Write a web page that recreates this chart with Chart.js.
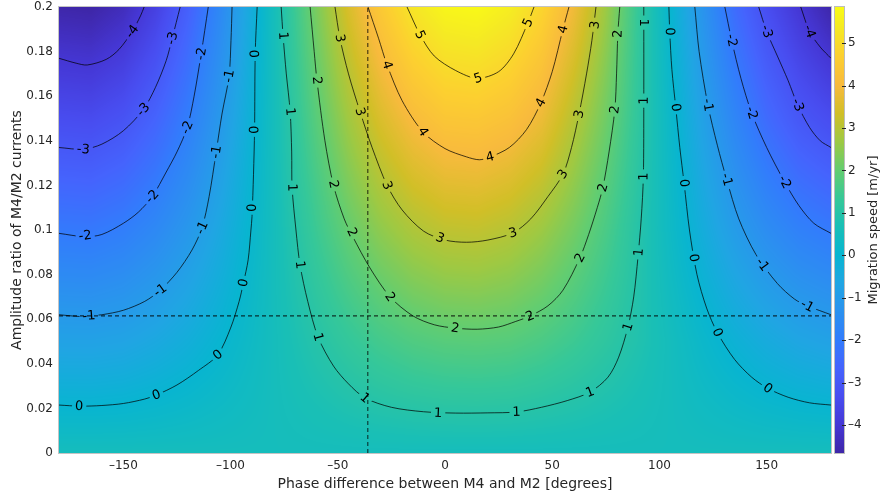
<!DOCTYPE html>
<html><head><meta charset="utf-8">
<script src="https://cdn.jsdelivr.net/npm/chart.js@4.4.1/dist/chart.umd.min.js"></script>
<style>html,body{margin:0;padding:0;background:#fff;}canvas{display:block;}</style>
</head><body>
<canvas id="c" width="882" height="494"></canvas>
<script>
// ---------------- data ----------------
const phaseGrid = [-180,-165,-150,-135,-120,-105,-90,-75,-60,-45,-30,-15,0,15,30,45,60,75,90,105,120,135,150,165,180];
const amplitudeGrid = [0, 0.05, 0.10, 0.15, 0.20];
const speedAtAmp000 = [0.53,0.53,0.53,0.53,0.53,0.53,0.53,0.53,0.53,0.53,0.53,0.53,0.53,0.53,0.53,0.53,0.53,0.53,0.53,0.53,0.53,0.53,0.53,0.53,0.53];
const speedAtAmp005 = [-0.76,-0.77,-0.70,-0.53,-0.30,-0.01,0.31,0.64,0.96,1.26,1.52,1.71,1.82,1.85,1.80,1.64,1.42,1.15,0.86,0.52,0.17,-0.15,-0.42,-0.63,-0.76];
const speedAtAmp010 = [-2.05,-2.08,-1.92,-1.59,-1.12,-0.55,0.09,0.75,1.40,2.00,2.51,2.89,3.11,3.15,3.00,2.68,2.20,1.63,0.98,0.31,-0.34,-0.94,-1.45,-1.83,-2.05];
const speedAtAmp015 = [-3.34,-3.38,-3.15,-2.65,-1.95,-1.09,-0.13,0.86,1.83,2.73,3.50,4.07,4.40,4.44,4.25,3.82,3.01,2.15,1.19,0.20,-0.77,-1.67,-2.44,-3.01,-3.34];
const speedAtAmp020 = [-4.63,-4.69,-4.38,-3.71,-2.77,-1.62,-0.35,0.97,2.27,3.47,4.49,5.25,5.69,5.78,5.48,4.85,3.88,2.68,1.30,0.02,-1.21,-2.41,-3.30,-4.00,-4.63];
const colorMin = -4.66, colorMax = 5.85;

// contour lines: [phase, amplitude ratio]
const contourLevel5 = [[-17.7,0.2],[-11.6,0.1875],[-5,0.178],[5,0.1715],[15,0.168],[25,0.171],[32,0.179],[38.7,0.193],[41.5,0.2]];
const contourLevel4 = [[-35.9,0.2],[-31,0.186],[-27,0.174],[-20,0.158],[-10.3,0.144],[0,0.1365],[10,0.1328],[16,0.1315],[21,0.1327],[30,0.137],[38,0.145],[44.7,0.157],[50,0.171],[55,0.19],[57.8,0.2]];
const contourLevel3 = [[-51.3,0.2],[-49,0.186],[-45,0.17],[-39.6,0.153],[-34,0.137],[-27,0.12],[-20,0.109],[-10,0.0995],[0,0.0955],[10,0.0945],[20,0.0955],[31.7,0.0987],[40,0.105],[48,0.115],[55,0.125],[59,0.137],[62.5,0.152],[66,0.17],[68.5,0.185],[70.4,0.2]];
const contourLevel2 = [[-62.9,0.2],[-61,0.18],[-59.7,0.167],[-56,0.14],[-52,0.12],[-47,0.105],[-43,0.097],[-35,0.083],[-25.6,0.070],[-15,0.0615],[-5,0.0575],[4.7,0.056],[15,0.0555],[25,0.0565],[33,0.059],[39.6,0.0614],[48,0.066],[55,0.073],[62.9,0.0875],[67,0.098],[71,0.11],[73.6,0.119],[76.5,0.135],[79.2,0.154],[80,0.17],[80.6,0.188],[81.5,0.2]];
const contourLevel1 = [[-76.4,0.2],[-75.5,0.187],[-74,0.17],[-72.2,0.153],[-71.5,0.135],[-71.3,0.119],[-69.5,0.1],[-67.6,0.0843],[-64,0.068],[-59.2,0.052],[-52,0.039],[-45,0.031],[-37.3,0.0247],[-25,0.0205],[-10,0.0185],[5,0.0179],[20,0.018],[33.4,0.0184],[45,0.0205],[57,0.0235],[67.6,0.0273],[76,0.034],[81,0.043],[85.3,0.0565],[88,0.07],[90,0.088],[91.5,0.105],[92.5,0.124],[92.7,0.158],[92.7,0.2]];
const contourLevel0Left = [[-180,0.0215],[-170,0.021],[-160,0.0213],[-150,0.0222],[-140,0.0242],[-134.6,0.026],[-125,0.0305],[-115,0.037],[-106,0.044],[-100,0.056],[-96,0.068],[-94,0.0763],[-91.8,0.0866],[-90.5,0.1],[-90,0.106],[-89.3,0.125],[-88.8,0.145],[-88.5,0.179],[-87.6,0.2]];
const contourLevel0Right = [[104.4,0.2],[104.8,0.189],[105.8,0.172],[107.6,0.155],[109.5,0.137],[111.5,0.121],[114,0.1],[117.5,0.08],[122,0.065],[127,0.054],[135,0.042],[143,0.034],[150.5,0.029],[160,0.025],[170,0.0225],[180,0.0215]];
const contourLevelM1Left = [[-180,0.062],[-170,0.0612],[-166,0.0615],[-160,0.062],[-150,0.064],[-140,0.068],[-132.8,0.073],[-125,0.081],[-118,0.091],[-113.3,0.101],[-110,0.115],[-106.7,0.135],[-104,0.152],[-100.7,0.169],[-99.8,0.185],[-99.3,0.2]];
const contourLevelM1Right = [[116.5,0.2],[118.5,0.18],[122.6,0.156],[127,0.138],[131.4,0.1225],[137,0.105],[145,0.089],[155,0.076],[163,0.069],[169,0.066],[180,0.062]];
const contourLevelM2Left = [[-180,0.0985],[-168,0.097],[-160,0.098],[-150,0.103],[-143,0.108],[-136.5,0.115],[-130,0.126],[-125,0.135],[-120.2,0.146],[-117,0.16],[-113.7,0.179],[-110.4,0.2]];
const contourLevelM2Right = [[130.5,0.2],[133.7,0.185],[138,0.168],[143,0.1525],[150,0.137],[158.4,0.1215],[165,0.111],[172,0.103],[180,0.0985]];
const contourLevelM3Left = [[-180,0.137],[-168.7,0.1362],[-160,0.1385],[-150,0.1445],[-140.7,0.154],[-135,0.164],[-130,0.176],[-127.2,0.186],[-123.5,0.2]];
const contourLevelM3Right = [[146.3,0.2],[150,0.189],[155,0.178],[160,0.167],[164.5,0.156],[170,0.146],[175,0.14],[180,0.137]];
const contourLevelM4Left = [[-180,0.177],[-172,0.1748],[-166.8,0.174],[-158,0.1765],[-152,0.181],[-145.9,0.189],[-142,0.196],[-140.3,0.2]];
const contourLevelM4Right = [[165.9,0.2],[170,0.189],[175,0.182],[180,0.177]];

// contour labels: [level, phase, amplitude ratio]
const contourLabels = [
  [5,-11.6,0.1875],[5,15.4,0.168],[5,38.7,0.193],
  [4,-27,0.174],[4,-10.3,0.144],[4,21,0.1327],[4,44.7,0.157],[4,55,0.19],
  [3,-49,0.186],[3,-39.6,0.153],[3,-27,0.12],[3,-2.3,0.0964],[3,31.7,0.0987],[3,55,0.125],[3,62.5,0.152],[3,69.9,0.192],
  [2,-59.7,0.167],[2,-52,0.1205],[2,-43.3,0.099],[2,-25.6,0.070],[2,4.7,0.056],[2,39.6,0.0614],[2,62.9,0.0875],[2,73.6,0.119],[2,79.2,0.154],[2,80.6,0.188],
  [1,-75.5,0.187],[1,-72.2,0.153],[1,-71.3,0.119],[1,-67.6,0.0843],[1,-59.2,0.052],[1,-37.3,0.0247],[1,-3.2,0.0179],[1,33.4,0.0184],[1,67.6,0.0273],[1,85.3,0.0565],[1,90.4,0.09],[1,92.6,0.124],[1,92.7,0.158],[1,92.7,0.193],
  [0,-88.5,0.179],[0,-88.8,0.145],[0,-90,0.11],[0,-94,0.0763],[0,-106,0.044],[0,-134.6,0.026],[0,-170.6,0.021],
  [0,104.8,0.189],[0,107.6,0.155],[0,111.5,0.121],[0,116,0.0875],[0,127,0.054],[0,150.5,0.029],
  [-1,-100.7,0.169],[-1,-106.7,0.135],[-1,-113.3,0.101],[-1,-132.8,0.073],[-1,-166,0.0615],
  [-1,122.6,0.156],[-1,131.4,0.1225],[-1,148,0.0845],[-1,169,0.066],
  [-2,-113.7,0.179],[-2,-120.2,0.146],[-2,-136.5,0.115],[-2,-167.8,0.0975],
  [-2,133.7,0.185],[-2,143,0.1525],[-2,158.4,0.1215],
  [-3,-127.2,0.186],[-3,-140.7,0.154],[-3,-168.7,0.1362],[-3,150,0.189],[-3,164.5,0.156],
  [-4,-145.9,0.189],[-4,170,0.189]
];

const markerPhase = -36;
const markerAmplitude = 0.0615;

const xTickValues = [-150,-100,-50,0,50,100,150];
const xTickLabels = ['\u2013150','\u2013100','\u201350','0','50','100','150'];
const yTickValues = [0,0.02,0.04,0.06,0.08,0.1,0.12,0.14,0.16,0.18,0.2];
const yTickLabels = ['0','0.02','0.04','0.06','0.08','0.1','0.12','0.14','0.16','0.18','0.2'];
const colorbarTickValues = [-4,-3,-2,-1,0,1,2,3,4,5];
const colorbarTickLabels = ['\u20134','\u20133','\u20132','\u20131','0','1','2','3','4','5'];

// ---------------- styling ----------------
const FONT = '"DejaVu Sans", sans-serif';
const TEXT = '#262626';
const parulaStops = [
 [0.000,62,38,168],[0.0635,69,55,213],[0.127,72,77,240],[0.1905,69,99,253],[0.254,50,124,252],
 [0.317,43,145,239],[0.381,32,165,227],[0.444,8,181,208],[0.508,25,191,182],[0.571,55,200,151],
 [0.635,100,205,111],[0.698,157,201,67],[0.762,209,191,39],[0.825,248,186,61],[0.889,252,207,48],
 [0.952,245,233,36],[1.000,249,251,21]
];
const LUT = (function(){
  const n=512, out=new Uint8Array(n*3);
  for(let i=0;i<n;i++){
    const t=i/(n-1); let k=0;
    while(k<parulaStops.length-2 && t>parulaStops[k+1][0]) k++;
    const a=parulaStops[k], b=parulaStops[k+1];
    const f=Math.min(1,Math.max(0,(t-a[0])/(b[0]-a[0])));
    for(let c=0;c<3;c++) out[i*3+c]=Math.round(a[c+1]+(b[c+1]-a[c+1])*f);
  }
  return out;
})();
function colorIndex(v){
  let t=(v-colorMin)/(colorMax-colorMin); t=Math.min(1,Math.max(0,t));
  return Math.round(t*511);
}
function interpIndex(arr,v){
  let i=0; while(i<arr.length-2 && v>arr[i+1]) i++;
  const t=(v-arr[i])/(arr[i+1]-arr[i]);
  return [i, Math.min(1,Math.max(0,t))];
}
const speedRows=[speedAtAmp000,speedAtAmp005,speedAtAmp010,speedAtAmp015,speedAtAmp020];

const heatmapPlugin = {
  id:'heatmap',
  beforeDatasetsDraw(chart){
    const a=chart.chartArea, xs=chart.scales.x, ys=chart.scales.y, ctx=chart.ctx;
    const L=Math.round(a.left), T=Math.round(a.top);
    const W=Math.round(a.right)-L, H=Math.round(a.bottom)-T;
    const off=document.createElement('canvas'); off.width=W; off.height=H;
    const octx=off.getContext('2d'); const img=octx.createImageData(W,H); const d=img.data;
    const cols=[]; for(let x=0;x<W;x++) cols.push(interpIndex(phaseGrid, xs.getValueForPixel(L+x+0.5)));
    const rows=[]; for(let y=0;y<H;y++) rows.push(interpIndex(amplitudeGrid, ys.getValueForPixel(T+y+0.5)));
    for(let y=0;y<H;y++){
      const [ri,rt]=rows[y]; const r0=speedRows[ri], r1=speedRows[ri+1];
      for(let x=0;x<W;x++){
        const [ci,ct]=cols[x];
        const v0=r0[ci]+(r0[ci+1]-r0[ci])*ct, v1=r1[ci]+(r1[ci+1]-r1[ci])*ct;
        const v=v0+(v1-v0)*rt; const k=colorIndex(v)*3; const p=(y*W+x)*4;
        d[p]=LUT[k]; d[p+1]=LUT[k+1]; d[p+2]=LUT[k+2]; d[p+3]=255;
      }
    }
    octx.putImageData(img,0,0);
    ctx.save();
    ctx.strokeStyle='#c4c4c4'; ctx.lineWidth=1;
    ctx.strokeRect(L-0.5,T-0.5,W+1,H+1);
    ctx.drawImage(off,L,T);
    ctx.restore();
  }
};

const labelPlugin = {
  id:'contourLabels',
  beforeDatasetsDraw(chart){
    const ctx=chart.ctx, xs=chart.scales.x, ys=chart.scales.y, a=chart.chartArea;
    ctx.save(); ctx.font='13px '+FONT;
    const geoms=[];
    const path=new Path2D(); path.rect(a.left-2,a.top-2,a.right-a.left+4,a.bottom-a.top+4);
    for(const [lev,ph,am] of contourLabels){
      const px=xs.getPixelForValue(ph), py=ys.getPixelForValue(am);
      let best=1e9, ang=0;
      chart.data.datasets.forEach(ds=>{
        if(ds.contourLevel!==lev) return;
        const pts=ds.data;
        for(let i=0;i<pts.length-1;i++){
          const x1=xs.getPixelForValue(pts[i].x), y1=ys.getPixelForValue(pts[i].y);
          const x2=xs.getPixelForValue(pts[i+1].x), y2=ys.getPixelForValue(pts[i+1].y);
          const dx=x2-x1, dy=y2-y1, l2=dx*dx+dy*dy||1;
          let t=((px-x1)*dx+(py-y1)*dy)/l2; t=Math.max(0,Math.min(1,t));
          const qx=x1+t*dx-px, qy=y1+t*dy-py, dd=qx*qx+qy*qy;
          if(dd<best){best=dd; ang=Math.atan2(dy,dx);}
        }
      });
      if(ang>Math.PI/2) ang-=Math.PI; if(ang<=-Math.PI/2) ang+=Math.PI;
      const text=lev<0?('-'+Math.abs(lev)):String(lev);
      const w=ctx.measureText(text).width/2+3, h=6;
      const c=Math.cos(ang), s=Math.sin(ang);
      const corner=(u,v)=>[px+u*c-v*s, py+u*s+v*c];
      const p1=corner(-w,-h),p2=corner(w,-h),p3=corner(w,h),p4=corner(-w,h);
      path.moveTo(p1[0],p1[1]); path.lineTo(p2[0],p2[1]); path.lineTo(p3[0],p3[1]); path.lineTo(p4[0],p4[1]); path.closePath();
      geoms.push({px,py,ang,text});
    }
    ctx.restore();
    chart.$labelGeoms=geoms; chart.$gapPath=path;
  },
  beforeDatasetDraw(chart,args){
    const ds=chart.data.datasets[args.index];
    if(ds.contourLevel!==undefined && chart.$gapPath){ chart.ctx.save(); chart.ctx.clip(chart.$gapPath,'evenodd'); }
  },
  afterDatasetDraw(chart,args){
    const ds=chart.data.datasets[args.index];
    if(ds.contourLevel!==undefined && chart.$gapPath){ chart.ctx.restore(); }
  },
  afterDatasetsDraw(chart){
    const ctx=chart.ctx; ctx.save();
    ctx.font='13px '+FONT; ctx.fillStyle='#000'; ctx.textAlign='center'; ctx.textBaseline='middle';
    for(const g of chart.$labelGeoms||[]){
      ctx.save(); ctx.translate(g.px,g.py); ctx.rotate(g.ang); ctx.fillText(g.text,0,0.5); ctx.restore();
    }
    ctx.restore();
  }
};

const colorbarPlugin = {
  id:'colorbar',
  afterDraw(chart){
    const ctx=chart.ctx, a=chart.chartArea;
    const x0=Math.round(a.right)+4, w=9, top=Math.round(a.top), bot=Math.round(a.bottom);
    ctx.save();
    for(let y=top;y<bot;y++){
      const v=colorMax-(y+0.5-top)/(bot-top)*(colorMax-colorMin);
      const k=colorIndex(v)*3;
      ctx.fillStyle='rgb('+LUT[k]+','+LUT[k+1]+','+LUT[k+2]+')';
      ctx.fillRect(x0,y,w,1);
    }
    ctx.strokeStyle='#bdbdbd'; ctx.lineWidth=1; ctx.strokeRect(x0-0.5,top-0.5,w+1,bot-top+1);
    ctx.fillStyle=TEXT; ctx.strokeStyle=TEXT; ctx.font='12px '+FONT; ctx.textAlign='left'; ctx.textBaseline='middle';
    colorbarTickValues.forEach((v,i)=>{
      const y=top+(colorMax-v)/(colorMax-colorMin)*(bot-top);
      ctx.beginPath(); ctx.moveTo(x0+w-2,Math.round(y)+0.5); ctx.lineTo(x0+w+2,Math.round(y)+0.5); ctx.stroke();
      ctx.fillText(colorbarTickLabels[i], x0+w+4, y);
    });
    ctx.translate(874,(top+bot)/2); ctx.rotate(-Math.PI/2);
    ctx.font='13px '+FONT; ctx.textAlign='center'; ctx.textBaseline='middle';
    ctx.fillText('Migration speed [m/yr]',0,0);
    ctx.restore();
  }
};

function toXY(arr){ return arr.map(p=>({x:p[0],y:p[1]})); }
const contourSets = [
  [5,contourLevel5],[4,contourLevel4],[3,contourLevel3],[2,contourLevel2],[1,contourLevel1],
  [0,contourLevel0Left],[0,contourLevel0Right],[-1,contourLevelM1Left],[-1,contourLevelM1Right],
  [-2,contourLevelM2Left],[-2,contourLevelM2Right],[-3,contourLevelM3Left],[-3,contourLevelM3Right],
  [-4,contourLevelM4Left],[-4,contourLevelM4Right]
];
const datasets = contourSets.map(([lev,pts])=>({
  label:'contour '+lev, contourLevel:lev, data:toXY(pts), showLine:true, pointRadius:0,
  borderColor:'rgba(0,0,0,0.9)', borderWidth:0.8, tension:0.3, fill:false
}));
datasets.push({label:'phase marker', data:[{x:markerPhase,y:0},{x:markerPhase,y:0.2}], showLine:true, pointRadius:0,
  borderColor:'rgba(0,0,0,0.75)', borderWidth:1.1, borderDash:[4,3]});
datasets.push({label:'amplitude marker', data:[{x:-180,y:markerAmplitude},{x:180,y:markerAmplitude}], showLine:true, pointRadius:0,
  borderColor:'rgba(0,0,0,0.75)', borderWidth:1.1, borderDash:[4,3]});

new Chart(document.getElementById('c'), {
  type:'scatter',
  data:{datasets},
  options:{
    responsive:false, animation:false, devicePixelRatio:1,
    layout:{padding:{left:0,right:51,top:7,bottom:0}},
    plugins:{legend:{display:false}, tooltip:{enabled:false}},
    scales:{
      x:{type:'linear', min:-180, max:180,
        afterBuildTicks:s=>{ s.ticks=xTickValues.map(v=>({value:v})); },
        afterFit:s=>{ s.height=41; s.paddingLeft=0; s.paddingRight=0; },
        grid:{display:false, drawTicks:false}, border:{display:false},
        ticks:{autoSkip:false, maxRotation:0, padding:6, color:TEXT, font:{family:FONT,size:12},
          callback:(v)=>xTickLabels[xTickValues.indexOf(v)]},
        title:{display:true, text:'Phase difference between M4 and M2 [degrees]', color:TEXT, font:{family:FONT,size:14}, padding:{top:0,bottom:1}}
      },
      y:{type:'linear', min:0, max:0.2,
        afterBuildTicks:s=>{ s.ticks=yTickValues.map(v=>({value:v})); },
        afterFit:s=>{ s.width=59; s.paddingTop=0; s.paddingBottom=0; },
        grid:{display:false, drawTicks:false}, border:{display:false},
        ticks:{autoSkip:false, padding:6, color:TEXT, font:{family:FONT,size:12},
          callback:(v)=>yTickLabels[yTickValues.indexOf(v)]},
        title:{display:true, text:'Amplitude ratio of M4/M2 currents', color:TEXT, font:{family:FONT,size:14}, padding:{top:9,bottom:0}}
      }
    }
  },
  plugins:[heatmapPlugin,labelPlugin,colorbarPlugin]
});
</script>
</body></html>
